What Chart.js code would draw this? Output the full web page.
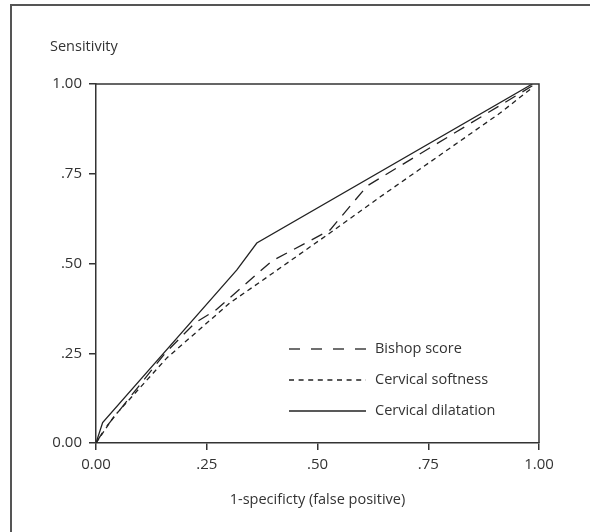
<!DOCTYPE html>
<html>
<head>
<meta charset="utf-8">
<script src="https://cdn.jsdelivr.net/npm/chart.js@4.4.0/dist/chart.umd.min.js"></script>
<style>
  body { margin: 0; background: #fff; }
  #wrap { position: relative; width: 590px; height: 532px; }
  #frame { position: absolute; left: 10px; top: 4px; right: 0; bottom: 0;
           border-left: 2px solid #555; border-top: 2px solid #555; pointer-events: none; }
  canvas { position: absolute; left: 0; top: 0; }
</style>
</head>
<body>
<div id="wrap">
  <canvas id="roc" width="590" height="532"></canvas>
  <div id="frame"></div>
</div>
<script>
// 데이터
const seriesNames = ['Bishop score', 'Cervical softness', 'Cervical dilatation'];

const bishopX = [0, 0.02, 0.156, 0.223, 0.27, 0.397, 0.528, 0.612, 0.985];
const bishopY = [0, 0.04, 0.25, 0.334, 0.37, 0.507, 0.593, 0.716, 0.995];

const softnessX = [0, 0.04, 0.16, 0.302, 0.37, 0.528, 0.641, 0.912, 0.985];
const softnessY = [0, 0.073, 0.237, 0.39, 0.448, 0.585, 0.685, 0.919, 0.99];

const dilatationX = [0, 0.015, 0.318, 0.363, 0.985];
const dilatationY = [0, 0.057, 0.482, 0.557, 1.0];

const tickValues = [0, 0.25, 0.5, 0.75, 1];
const xTickLabels = ['0.00', '.25', '.50', '.75', '1.00'];
const yTickLabels = ['0.00', '.25', '.50', '.75', '1.00'];

const FONT = "'Open Sans', 'Noto Sans', sans-serif";
const INK = '#222';
const TEXT = '#333';

function toPoints(xs, ys) {
    return xs.map((x, i) => ({ x: x, y: ys[i] }));
}

function labelFor(labels, value) {
    const idx = tickValues.findIndex(v => Math.abs(v - value) < 1e-6);
    return idx >= 0 ? labels[idx] : '';
}

// 차트 영역 상/우 테두리, Sensitivity 제목, 범례
const decorPlugin = {
    id: 'decor',
    afterDraw(chart) {
        const { ctx, chartArea } = chart;
        ctx.save();
        ctx.strokeStyle = '#333';
        ctx.lineWidth = 1.5;
        ctx.beginPath();
        ctx.moveTo(chartArea.left, chartArea.top);
        ctx.lineTo(chartArea.right, chartArea.top);
        ctx.lineTo(chartArea.right, chartArea.bottom);
        ctx.stroke();

        ctx.fillStyle = TEXT;
        ctx.font = '14.5px ' + FONT;
        ctx.textBaseline = 'middle';
        ctx.textAlign = 'left';
        ctx.fillText('Sensitivity', 50, 47);

        // 범례
        const rows = [349, 380, 411];
        const legendDash = [[11, 11], [5, 4.6], []];
        chart.data.datasets.forEach((ds, i) => {
            const y = rows[i];
            ctx.strokeStyle = INK;
            ctx.lineWidth = 1.3;
            ctx.setLineDash(legendDash[i]);
            ctx.beginPath();
            ctx.moveTo(289, y);
            ctx.lineTo(366, y);
            ctx.stroke();
            ctx.setLineDash([]);
            ctx.fillText(ds.label, 375, y);
        });
        ctx.restore();
    }
};

const axisCommon = {
    type: 'linear',
    min: 0,
    max: 1,
    grid: {
        display: true,
        drawOnChartArea: false,
        drawTicks: true,
        tickLength: 7,
        color: '#333',
        lineWidth: 1.5
    },
    border: { display: true, color: '#333', width: 1.5 },
    afterBuildTicks: (scale) => {
        scale.ticks = tickValues.map(v => ({ value: v }));
    }
};

new Chart(document.getElementById('roc').getContext('2d'), {
    type: 'scatter',
    data: {
        datasets: [
            {
                label: seriesNames[0],
                data: toPoints(bishopX, bishopY),
                borderDash: [12, 8]
            },
            {
                label: seriesNames[1],
                data: toPoints(softnessX, softnessY),
                borderDash: [5, 4]
            },
            {
                label: seriesNames[2],
                data: toPoints(dilatationX, dilatationY),
                borderDash: []
            }
        ].map(ds => Object.assign(ds, {
            showLine: true,
            borderColor: INK,
            borderWidth: 1.3,
            pointRadius: 0,
            pointHoverRadius: 0,
            tension: 0,
            fill: false
        }))
    },
    options: {
        responsive: false,
        animation: false,
        layout: { padding: { left: 0, right: 51, top: 84, bottom: 0 } },
        plugins: {
            legend: { display: false },
            tooltip: { enabled: false }
        },
        scales: {
            x: Object.assign({}, axisCommon, {
                position: 'bottom',
                ticks: {
                    color: TEXT,
                    font: { family: FONT, size: 15 },
                    padding: 6,
                    maxRotation: 0,
                    callback: (v) => labelFor(xTickLabels, v)
                },
                title: {
                    display: true,
                    text: '1-specificty (false positive)',
                    color: TEXT,
                    font: { family: FONT, size: 14.5 },
                    padding: { top: 0, bottom: 23 }
                },
                afterFit: (scale) => { scale.height = 89; }
            }),
            y: Object.assign({}, axisCommon, {
                position: 'left',
                ticks: {
                    color: TEXT,
                    font: { family: FONT, size: 15 },
                    padding: 7,
                    callback: (v) => labelFor(yTickLabels, v)
                },
                afterFit: (scale) => { scale.width = 96; }
            })
        }
    },
    plugins: [decorPlugin]
});
</script>
</body>
</html>
